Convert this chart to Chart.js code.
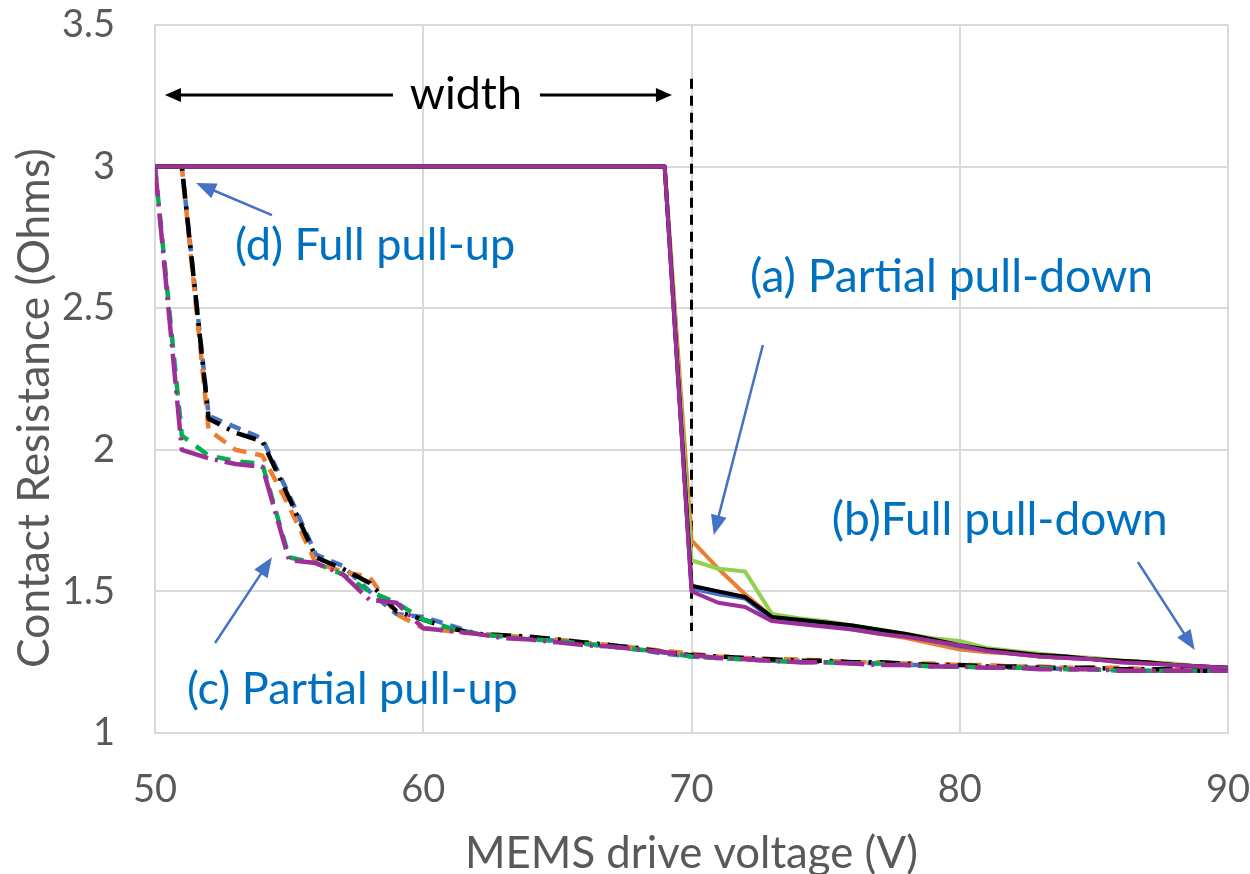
<!DOCTYPE html>
<html><head><meta charset="utf-8">
<script src="https://cdn.jsdelivr.net/npm/chart.js@4.4.1/dist/chart.umd.min.js"></script>
<style>html,body{margin:0;padding:0;background:#fff;}#wrap{width:1250px;height:874px;}</style>
</head><body><div id="wrap"><canvas id="c" width="1250" height="874"></canvas></div>
<script>
// ---------- data ----------
const volts = [50,51,52,53,54,55,56,57,58,59,60,61,62,63,64,65,66,67,68,69,70,71,72,73,74,75,76,77,78,79,80,81,82,83,84,85,86,87,88,89,90];

// pull-down sweeps (solid)
const downBlack  = [3,3,3,3,3,3,3,3,3,3,3,3,3,3,3,3,3,3,3,3, 1.52,1.50,1.48,1.41,1.40,1.39,1.38,1.365,1.35,1.33, 1.31,1.295,1.285,1.275,1.27,1.26,1.255,1.25,1.24,1.235,1.23];
const downBlue   = [3,3,3,3,3,3,3,3,3,3,3,3,3,3,3,3,3,3,3,3, 1.51,1.49,1.475,1.40,1.39,1.38,1.37,1.36,1.345,1.325, 1.305,1.29,1.28,1.27,1.265,1.26,1.25,1.245,1.24,1.235,1.23];
const downOrange = [3,3,3,3,3,3,3,3,3,3,3,3,3,3,3,3,3,3,3,3, 1.68,1.58,1.49,1.41,1.395,1.38,1.365,1.35,1.335,1.315, 1.295,1.285,1.28,1.27,1.265,1.26,1.255,1.25,1.24,1.235,1.23];
const downGreen  = [3,3,3,3,3,3,3,3,3,3,3,3,3,3,3,3,3,3,3,3, 1.61,1.58,1.57,1.42,1.405,1.395,1.38,1.365,1.35,1.335, 1.325,1.30,1.29,1.28,1.27,1.265,1.255,1.25,1.245,1.235,1.23];
const downPurple = [3,3,3,3,3,3,3,3,3,3,3,3,3,3,3,3,3,3,3,3, 1.50,1.46,1.445,1.395,1.385,1.375,1.365,1.35,1.34,1.325, 1.31,1.29,1.28,1.27,1.265,1.26,1.25,1.245,1.24,1.235,1.23];

// pull-up sweeps (dashed)
const upBlack  = [3,3,2.11,2.06,2.03,1.83,1.62,1.58,1.53,1.43, 1.40,1.37,1.35,1.345,1.34,1.33,1.32,1.31,1.30,1.285, 1.275,1.27,1.265,1.26,1.255,1.255,1.25,1.25,1.245,1.24, 1.24,1.235,1.235,1.23,1.23,1.23,1.225,1.225,1.225,1.22,1.22];
const upBlue   = [3,3,2.12,2.08,2.04,1.84,1.63,1.59,1.50,1.42, 1.41,1.38,1.35,1.34,1.335,1.325,1.315,1.305,1.295,1.28, 1.27,1.265,1.26,1.255,1.255,1.25,1.25,1.245,1.24,1.24, 1.235,1.235,1.23,1.23,1.225,1.225,1.225,1.22,1.22,1.22,1.22];
const upOrange = [3,3,2.07,2.00,1.98,1.80,1.60,1.57,1.55,1.42, 1.37,1.36,1.35,1.345,1.335,1.33,1.32,1.31,1.30,1.29, 1.28,1.27,1.265,1.26,1.26,1.255,1.25,1.25,1.245,1.245, 1.24,1.24,1.235,1.235,1.23,1.23,1.23,1.225,1.225,1.225,1.225];
const upGreen  = [3,2.05,1.98,1.96,1.95,1.62,1.60,1.56,1.50,1.46, 1.40,1.37,1.35,1.34,1.33,1.325,1.315,1.305,1.295,1.285, 1.27,1.265,1.26,1.255,1.25,1.25,1.245,1.245,1.24,1.235, 1.235,1.23,1.23,1.23,1.225,1.225,1.22,1.22,1.22,1.22,1.22];
const upPurple = [3,2.00,1.97,1.95,1.94,1.61,1.60,1.56,1.47,1.46, 1.37,1.36,1.35,1.335,1.33,1.32,1.31,1.305,1.295,1.285, 1.275,1.265,1.26,1.255,1.25,1.25,1.245,1.24,1.24,1.235, 1.235,1.23,1.23,1.225,1.225,1.225,1.22,1.22,1.22,1.22,1.22];

// vertical marker at 70 V
const markerX = [70, 70];
const markerY = [3.31, 1.36];

// axis ticks
const xTicks = [50, 60, 70, 80, 90];
const yTicks = [1, 1.5, 2, 2.5, 3, 3.5];

// ---------- styling ----------
const FONT = 'Lato, "Open Sans", sans-serif';
const GREY = '#595959';
function fitSize(text, width) {
  const c = document.createElement('canvas').getContext('2d');
  c.font = '100px ' + FONT;
  return 100 * width / c.measureText(text).width;
}
const pts = (xs, ys) => xs.map((x, i) => ({x: x, y: ys[i]}));

function ds(label, ys, color, dash) {
  return {label, data: pts(volts, ys), borderColor: color, backgroundColor: color,
    borderWidth: dash ? 4.5 : 4, borderDash: dash || [], pointRadius: 0, tension: 0, fill: false,
    borderCapStyle: 'butt', borderJoinStyle: 'round'};
}
const PURPLE = '#9E2F98';
const datasets = [
  ds('down purple', downPurple, PURPLE),
  ds('down black', downBlack, '#000000'),
  ds('down blue', downBlue, '#4472C4'),
  ds('down green', downGreen, '#92D050'),
  ds('down orange', downOrange, '#ED7D31'),
  ds('up purple', upPurple, PURPLE, [30, 7, 3, 7]),
  ds('up green', upGreen, '#00B050', [14, 10]),
  ds('up black', upBlack, '#000000', [20, 8, 3, 8]),
  ds('up orange', upOrange, '#ED7D31', [14, 9]),
  ds('up blue', upBlue, '#4472C4', [12, 8]),
  {label: 'marker', data: pts(markerX, markerY), borderColor: '#000', borderWidth: 3,
   borderDash: [10, 7], pointRadius: 0, fill: false}
];

// annotations (data coordinates)
const notes = [
  {text: '(d) Full pull-up',      x: 52.98, y: 2.723, w: 280, color: '#0070C0'},
  {text: '(a) Partial pull-down', x: 72.18, y: 2.610, w: 403, color: '#0070C0'},
  {text: '(b)Full pull-down',     x: 75.23, y: 1.752, w: 336, color: '#0070C0'},
  {text: '(c) Partial pull-up',   x: 51.19, y: 1.152, w: 331, color: '#0070C0'},
  {text: 'width',                 x: 59.50, y: 3.253, w: 112, color: '#000000'}
];
const arrows = [
  {x1: 54.36, y1: 2.829, x2: 51.53, y2: 2.942, color: '#4472C4', lw: 2.5, hl: 20, hw: 8},
  {x1: 72.66, y1: 2.370, x2: 70.83, y2: 1.699, color: '#4472C4', lw: 2.5, hl: 20, hw: 8},
  {x1: 86.64, y1: 1.604, x2: 88.76, y2: 1.293, color: '#4472C4', lw: 2.5, hl: 20, hw: 8},
  {x1: 52.24, y1: 1.318, x2: 54.36, y2: 1.621, color: '#4472C4', lw: 2.5, hl: 20, hw: 8},
  {x1: 58.87, y1: 3.253, x2: 50.37, y2: 3.253, color: '#000000', lw: 3, hl: 16, hw: 7},
  {x1: 64.35, y1: 3.253, x2: 69.27, y2: 3.253, color: '#000000', lw: 3, hl: 16, hw: 7}
];
const yTitle = 'Contact Resistance (Ohms)';

const annot = {
  id: 'annot',
  afterDatasetsDraw(chart) {
    const ctx = chart.ctx, xs = chart.scales.x, ys = chart.scales.y;
    ctx.save();
    arrows.forEach(a => {
      const x1 = xs.getPixelForValue(a.x1), y1 = ys.getPixelForValue(a.y1);
      const x2 = xs.getPixelForValue(a.x2), y2 = ys.getPixelForValue(a.y2);
      const ang = Math.atan2(y2 - y1, x2 - x1);
      const bx = x2 - a.hl * Math.cos(ang), by = y2 - a.hl * Math.sin(ang);
      ctx.strokeStyle = a.color; ctx.fillStyle = a.color; ctx.lineWidth = a.lw; ctx.setLineDash([]);
      ctx.beginPath(); ctx.moveTo(x1, y1); ctx.lineTo(bx + 2 * Math.cos(ang), by + 2 * Math.sin(ang)); ctx.stroke();
      ctx.beginPath(); ctx.moveTo(x2, y2);
      ctx.lineTo(bx + a.hw * Math.sin(ang), by - a.hw * Math.cos(ang));
      ctx.lineTo(bx - a.hw * Math.sin(ang), by + a.hw * Math.cos(ang));
      ctx.closePath(); ctx.fill();
    });
    notes.forEach(n => {
      const s = fitSize(n.text, n.w);
      ctx.font = s.toFixed(1) + 'px ' + FONT;
      ctx.fillStyle = n.color; ctx.textAlign = 'left'; ctx.textBaseline = 'middle';
      ctx.fillText(n.text, xs.getPixelForValue(n.x), ys.getPixelForValue(n.y));
    });
    // y-axis title
    const ts = fitSize(yTitle, 520);
    ctx.translate(35, (ys.getPixelForValue(3.5) + ys.getPixelForValue(1)) / 2 + 29);
    ctx.rotate(-Math.PI / 2);
    ctx.font = ts.toFixed(1) + 'px ' + FONT;
    ctx.fillStyle = GREY; ctx.textAlign = 'center'; ctx.textBaseline = 'middle';
    ctx.fillText(yTitle, 0, 0);
    ctx.restore();
  }
};

const xTitleSize = fitSize('MEMS drive voltage (V)', 453);

new Chart(document.getElementById('c'), {
  type: 'line',
  data: {datasets},
  plugins: [annot],
  options: {
    responsive: false, animation: false,
    layout: {padding: {top: 25, right: 22, left: 0, bottom: 0}},
    plugins: {legend: {display: false}, tooltip: {enabled: false}},
    scales: {
      x: {type: 'linear', min: xTicks[0], max: xTicks[xTicks.length - 1],
        afterBuildTicks(s) { s.ticks = xTicks.map(v => ({value: v})); },
        ticks: {color: GREY, font: {family: FONT, size: 38}, padding: 34, callback: v => String(v)},
        grid: {color: '#d9d9d9', lineWidth: 2, drawTicks: false},
        border: {color: '#d9d9d9', width: 2},
        title: {display: true, text: 'MEMS drive voltage (V)', color: GREY,
          font: {family: FONT, size: xTitleSize, lineHeight: 0.8}, padding: {top: 0, bottom: 3}},
        afterFit(s) { s.height = 141; s.paddingLeft = 0; s.paddingRight = 0; }
      },
      y: {min: yTicks[0], max: yTicks[yTicks.length - 1],
        afterBuildTicks(s) { s.ticks = yTicks.map(v => ({value: v})); },
        ticks: {color: GREY, font: {family: FONT, size: 38}, padding: 40, callback: v => String(v)},
        grid: {color: '#d9d9d9', lineWidth: 2, drawTicks: false},
        border: {color: '#d9d9d9', width: 2},
        afterFit(s) { s.width = 155; s.paddingTop = 0; s.paddingBottom = 0; }
      }
    }
  }
});
</script></body></html>
